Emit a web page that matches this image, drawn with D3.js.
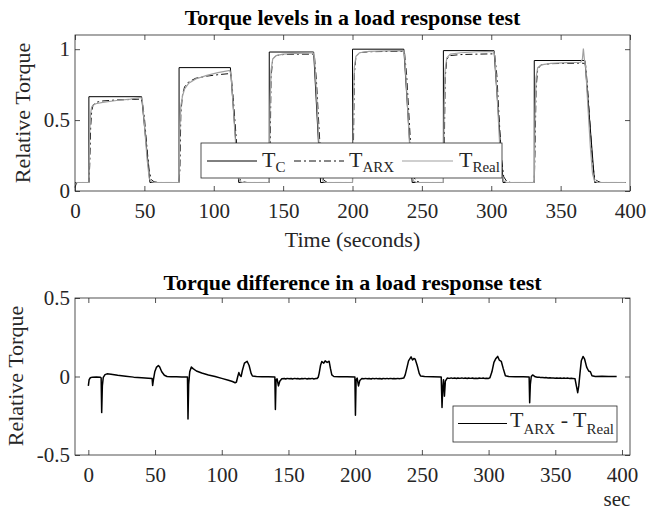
<!DOCTYPE html>
<html>
<head>
<meta charset="utf-8">
<script src="https://cdn.jsdelivr.net/npm/d3@7"></script>
<style>
  body { margin: 0; background: #fff; }
  text { font-family: "Liberation Serif", "Times New Roman", serif; fill: #262626; }
</style>
</head>
<body>
<script>
// ---- data ----
var xTicks = [0, 50, 100, 150, 200, 250, 300, 350, 400];
var topYTicks = [0, 0.5, 1];
var topYLabels = ["0", "0.5", "1"];
var bottomYTicks = [-0.5, 0, 0.5];
var bottomYLabels = ["-0.5", "0", "0.5"];

// commanded torque T_C  [time, value]
var tcPoints = [[0,0.06],[10,0.06],[10,0.665],[48,0.665],[54,0.06],[75,0.06],[75,0.87],[112,0.87],[118,0.06],
  [140,0.06],[140,0.98],[172,0.98],[177,0.06],[200,0.06],[200,1.0],[237,1.0],[243,0.06],
  [265.5,0.06],[265.5,0.99],[302,0.99],[308.5,0.06],[331,0.06],[331,0.92],[367.5,0.92],[374.5,0.06],[397,0.06]];

// ARX model output
var arxPoints = [[0,0.025],[1,0.055],[2,0.06],[10,0.06],[10.6,0.18],[11.3,0.45],[12,0.56],[13,0.605],[15,0.625],[20,0.635],[30,0.642],[40,0.645],[47.5,0.648],[48.5,0.63],[50,0.52],[52,0.29],[53.5,0.14],[55,0.08],[57,0.065],[60,0.06],
  [75,0.06],[75.6,0.15],[76.3,0.55],[77.5,0.68],[79,0.735],[82,0.77],[87,0.795],[95,0.81],[103,0.82],[111.5,0.828],[112.5,0.82],[114,0.66],[116,0.4],[117.5,0.18],[119,0.08],[121,0.065],[124,0.06],
  [140,0.06],[140.6,0.25],[141.3,0.8],[142.5,0.93],[145,0.955],[150,0.962],[160,0.965],[171.5,0.965],[172.5,0.96],[174,0.78],[176,0.42],[177.5,0.18],[179,0.08],[181,0.065],[184,0.06],
  [200,0.06],[200.6,0.25],[201.3,0.82],[202.5,0.95],[205,0.975],[212,0.982],[225,0.984],[236.5,0.984],[237.5,0.975],[239,0.82],[241,0.48],[242.5,0.22],[244,0.1],[246,0.07],[249,0.06],
  [265.5,0.06],[266.1,0.26],[266.8,0.8],[268,0.93],[270.5,0.955],[278,0.962],[290,0.965],[301.5,0.967],[302.5,0.96],[304,0.82],[306,0.46],[307.5,0.22],[309,0.1],[311,0.07],[314,0.06],
  [331,0.06],[331.6,0.3],[332.3,0.72],[333.5,0.86],[336,0.89],[343,0.898],[355,0.9],[364.5,0.902],[367,0.9],[368,0.89],[369.5,0.72],[371.5,0.42],[373,0.2],[374.5,0.09],[376.5,0.07],[379,0.06],[397,0.06]];

// measured torque
var realPoints = [[0,0.05],[1,0.06],[10,0.06],[10.6,0.42],[11.3,0.55],[12,0.59],[13,0.605],[15,0.615],[20,0.625],[30,0.638],[40,0.648],[47.5,0.66],[48.5,0.64],[50,0.47],[52,0.22],[53.5,0.09],[55,0.065],[57,0.06],
  [75,0.06],[75.6,0.45],[76.3,0.6],[77.5,0.67],[79,0.72],[82,0.76],[87,0.79],[95,0.815],[103,0.835],[111.5,0.85],[112.5,0.82],[114,0.6],[116,0.3],[117.5,0.1],[119,0.065],[121,0.06],
  [140,0.06],[140.6,0.6],[141.3,0.85],[142.5,0.93],[145,0.955],[150,0.965],[160,0.97],[171.5,0.975],[172.5,0.95],[174,0.7],[176,0.3],[177.5,0.1],[179,0.065],[181,0.06],
  [200,0.06],[200.6,0.62],[201.3,0.87],[202.5,0.95],[205,0.975],[212,0.985],[225,0.988],[236.5,0.99],[237.5,0.96],[239,0.72],[241,0.35],[242.5,0.12],[244,0.07],[246,0.06],
  [265.5,0.06],[266.1,0.6],[266.8,0.86],[268,0.94],[270.5,0.965],[278,0.975],[290,0.982],[301.5,0.985],[302.5,0.955],[304,0.72],[306,0.34],[307.5,0.12],[309,0.07],[311,0.06],
  [331,0.06],[331.6,0.55],[332.3,0.8],[333.5,0.87],[336,0.89],[343,0.9],[355,0.905],[364.5,0.908],[365.7,0.93],[366.4,1.005],[367.2,0.92],[368,0.88],[369.5,0.62],[371.5,0.3],[373,0.12],[374.5,0.07],[376.5,0.06],[397,0.06]];

// difference T_ARX - T_Real
var diffPoints = [[0,-0.06],[0.6,-0.02],[1.5,-0.008],[3,-0.004],[6,-0.003],[9,-0.004],[9.6,-0.01],[10,-0.23],[10.5,-0.06],[11.2,-0.005],[12.5,0.012],[14,0.017],[17,0.015],[22,0.008],[28,0.002],[34,-0.004],[40,-0.008],[45,-0.011],[47.8,-0.013],
  [48.2,-0.057],[48.8,-0.02],[49.8,0.03],[51,0.058],[52.5,0.07],[53.5,0.06],[55,0.03],[57,0.008],[59,0],[62,-0.002],[66,-0.001],[70,-0.003],[74.3,-0.003],
  [74.7,-0.27],[75.2,-0.05],[76,0.03],[77.2,0.06],[78.5,0.05],[81,0.035],[85,0.022],[90,0.01],[95,0],[100,-0.012],[105,-0.024],[108,-0.032],[110,-0.04],[111,-0.035],
  [112,0],[112.8,0.025],[113.5,0.01],[114.5,0],[115.5,0.04],[117,0.085],[119,0.097],[120.5,0.07],[122,0.02],[123,0.003],[126,0],[130,-0.002],[135,-0.002],[139.8,-0.003],
  [140.2,-0.21],[140.7,-0.02],[141.5,-0.015],[142.5,-0.06],[143.5,-0.03],[145,-0.015],[147,-0.013],[148,-0.016],[149,-0.012],[150.5,-0.015],[152,-0.013],[153,-0.016],[154.5,-0.012],[156,-0.015],[157,-0.013],[158.5,-0.016],[160,-0.013],[161,-0.015],[162.5,-0.012],[164,-0.016],[165,-0.013],[166.5,-0.015],[168,-0.012],[169,-0.016],[170.5,-0.013],[171.5,-0.012],
  [172.3,-0.005],[173,0.02],[174,0.07],[175,0.095],[176.5,0.085],[177.5,0.1],[179,0.09],[180.5,0.097],[181.5,0.05],[182.5,0.01],[184,0],[188,-0.002],[194,-0.001],[199.8,-0.003],
  [200.2,-0.247],[200.7,-0.02],[201.5,-0.01],[202.5,-0.06],[203.5,-0.025],[205,-0.013],[206.5,-0.015],[208,-0.012],[209,-0.015],[210.5,-0.013],[212,-0.016],[213,-0.012],[214.5,-0.014],[216,-0.012],[217,-0.015],[218.5,-0.013],[220,-0.016],[221,-0.012],[222.5,-0.014],[224,-0.012],[225,-0.015],[226.5,-0.012],[228,-0.015],[229,-0.013],[230.5,-0.015],[232,-0.012],[233,-0.014],[234.5,-0.012],[236.4,-0.01],
  [237.5,0.01],[238.9,0.06],[240,0.1],[241.9,0.125],[243,0.105],[244,0.115],[245,0.11],[246.5,0.07],[248,0.02],[249,0.003],[252,0],[258,-0.002],[264.5,-0.003],
  [265.1,-0.198],[265.6,-0.08],[266.2,-0.02],[266.9,-0.125],[267.6,-0.03],[269,-0.01],[270.5,-0.012],[272,-0.009],[273,-0.012],[274.5,-0.01],[276,-0.013],[277,-0.01],[278.5,-0.012],[280,-0.009],[281,-0.012],[282.5,-0.01],[284,-0.013],[285,-0.01],[286.5,-0.012],[288,-0.01],[289,-0.013],[290.5,-0.011],[292,-0.013],[293,-0.01],[294.5,-0.012],[296,-0.01],[297,-0.012],[298.5,-0.011],[300,-0.012],[301,-0.008],
  [302.5,0.03],[304,0.09],[305.5,0.115],[306.8,0.128],[308,0.105],[309.5,0.097],[311,0.05],[312.6,0.005],[315,0],[320,-0.002],[326,-0.001],[330.4,-0.003],
  [330.8,-0.167],[331.3,-0.05],[332,0],[333,0.01],[335,-0.002],[336.5,-0.005],[338,-0.004],[339,-0.007],[340.5,-0.006],[342,-0.008],[343,-0.007],[344.5,-0.009],[346,-0.008],[347,-0.01],[348.5,-0.009],[350,-0.011],[351,-0.009],[352.5,-0.011],[354,-0.01],[355,-0.012],[356.5,-0.01],[358,-0.012],[359,-0.01],[360.5,-0.012],[362,-0.011],[363,-0.012],[364.8,-0.015],
  [365.8,-0.06],[366.8,-0.103],[367.6,-0.06],[368.5,0.02],[369.5,0.1],[370.8,0.128],[372,0.11],[373.5,0.06],[375,0.035],[376.3,0.03],[377.5,0.005],[380,0],[385,0.001],[390,0],[396,0]];

var W = 646, H = 510;
var svg = d3.select("body").append("svg")
  .attr("width", W)
  .attr("height", H);

// draws a matlab style box with inward ticks on all four sides
function drawBox(x, y, yTicks, yLabels) {
  var x0 = x.range()[0], x1 = x.range()[1];
  var y0 = y.range()[0], y1 = y.range()[1];
  var g = svg.append("g");

  g.append("g").attr("transform", "translate(0," + y0 + ")")
    .call(d3.axisBottom(x).tickValues(xTicks).tickSize(-5).tickPadding(12));
  g.append("g").attr("transform", "translate(0," + y1 + ")")
    .call(d3.axisTop(x).tickValues(xTicks).tickSize(-5).tickFormat(""));
  g.append("g").attr("transform", "translate(" + x0 + ",0)")
    .call(d3.axisLeft(y).tickValues(yTicks).tickSize(-5).tickPadding(5)
      .tickFormat(function(d, i) { return yLabels[i]; }));
  g.append("g").attr("transform", "translate(" + x1 + ",0)")
    .call(d3.axisRight(y).tickValues(yTicks).tickSize(-5).tickFormat(""));

  g.selectAll(".domain").remove();
  g.selectAll(".tick line").attr("stroke", "#262626").attr("stroke-width", 0.8);
  g.selectAll(".tick text")
    .attr("font-family", "Liberation Serif")
    .attr("font-size", 21)
    .attr("fill", "#262626");

  g.append("rect")
    .attr("x", x0).attr("y", y1)
    .attr("width", x1 - x0).attr("height", y0 - y1)
    .attr("fill", "none")
    .attr("stroke", "#262626")
    .attr("stroke-width", 0.8);
}

function title(txt, yPos) {
  svg.append("text")
    .attr("x", 352.5).attr("y", yPos)
    .attr("text-anchor", "middle")
    .attr("font-size", 22)
    .attr("font-weight", "bold")
    .style("fill", "#000")
    .text(txt);
}

function yLabel(xPos, yMid) {
  svg.append("text")
    .attr("transform", "translate(" + xPos + "," + yMid + ") rotate(-90)")
    .attr("text-anchor", "middle")
    .attr("font-size", 22)
    .text("Relative Torque");
}

// T with a subscript
function subText(sel, parts) {
  parts.forEach(function(p) {
    sel.append("tspan")
      .attr("font-size", p.sub ? 15 : 22)
      .attr("dy", p.dy || 0)
      .text(p.t);
  });
}

// ---------- top panel ----------
var x1 = d3.scaleLinear().domain([0, 400]).range([75, 630]);
var y1 = d3.scaleLinear().domain([0, 1.1]).range([191, 35]);

var line1 = d3.line()
  .x(function(d) { return x1(d[0]); })
  .y(function(d) { return y1(d[1]); });

svg.append("path").datum(tcPoints)
  .attr("d", line1).attr("fill", "none")
  .attr("stroke", "#000").attr("stroke-width", 1);
svg.append("path").datum(arxPoints)
  .attr("d", line1).attr("fill", "none")
  .attr("stroke", "#111").attr("stroke-width", 1)
  .attr("stroke-dasharray", "7,3,2,3");
svg.append("path").datum(realPoints)
  .attr("d", line1).attr("fill", "none")
  .attr("stroke", "#a0a0a0").attr("stroke-width", 1.2);

drawBox(x1, y1, topYTicks, topYLabels);
title("Torque levels in a load response test", 25);
yLabel(30, 113);

svg.append("text")
  .attr("x", 352.5).attr("y", 247)
  .attr("text-anchor", "middle")
  .attr("font-size", 22)
  .text("Time (seconds)");

// top legend
var lg = svg.append("g");
lg.append("rect")
  .attr("x", 201).attr("y", 143).attr("width", 301).attr("height", 35)
  .attr("fill", "#fff").attr("stroke", "#262626").attr("stroke-width", 0.8);
lg.append("line").attr("x1", 207).attr("x2", 257).attr("y1", 161).attr("y2", 161)
  .attr("stroke", "#000").attr("stroke-width", 1);
lg.append("line").attr("x1", 294).attr("x2", 344).attr("y1", 161).attr("y2", 161)
  .attr("stroke", "#111").attr("stroke-width", 1).attr("stroke-dasharray", "7,3,2,3");
lg.append("line").attr("x1", 402).attr("x2", 453).attr("y1", 161).attr("y2", 161)
  .attr("stroke", "#a0a0a0").attr("stroke-width", 1.2);
subText(lg.append("text").attr("x", 262).attr("y", 167),
  [{t: "T"}, {t: "C", sub: true, dy: 5}]);
subText(lg.append("text").attr("x", 349).attr("y", 167),
  [{t: "T"}, {t: "ARX", sub: true, dy: 5}]);
subText(lg.append("text").attr("x", 459).attr("y", 167),
  [{t: "T"}, {t: "Real", sub: true, dy: 5}]);

// ---------- bottom panel ----------
var x2 = d3.scaleLinear().domain([-10, 406]).range([75, 630]);
var y2 = d3.scaleLinear().domain([-0.5, 0.5]).range([455, 298]);

var line2 = d3.line()
  .x(function(d) { return x2(d[0]); })
  .y(function(d) { return y2(d[1]); });

svg.append("path").datum(diffPoints)
  .attr("d", line2).attr("fill", "none")
  .attr("stroke", "#000").attr("stroke-width", 1.5)
  .attr("stroke-linejoin", "round");

drawBox(x2, y2, bottomYTicks, bottomYLabels);
title("Torque difference in a load response test", 290);
yLabel(23, 376);

svg.append("text")
  .attr("x", 617).attr("y", 506)
  .attr("text-anchor", "middle")
  .attr("font-size", 21)
  .text("sec");

// bottom legend
var lg2 = svg.append("g");
lg2.append("rect")
  .attr("x", 453).attr("y", 406).attr("width", 164).attr("height", 36)
  .attr("fill", "#fff").attr("stroke", "#262626").attr("stroke-width", 0.8);
lg2.append("line").attr("x1", 458).attr("x2", 507).attr("y1", 423.5).attr("y2", 423.5)
  .attr("stroke", "#000").attr("stroke-width", 1);
subText(lg2.append("text").attr("x", 510).attr("y", 427),
  [{t: "T"}, {t: "ARX", sub: true, dy: 7}, {t: " - T", dy: -7}, {t: "Real", sub: true, dy: 7}]);
</script>
</body>
</html>
